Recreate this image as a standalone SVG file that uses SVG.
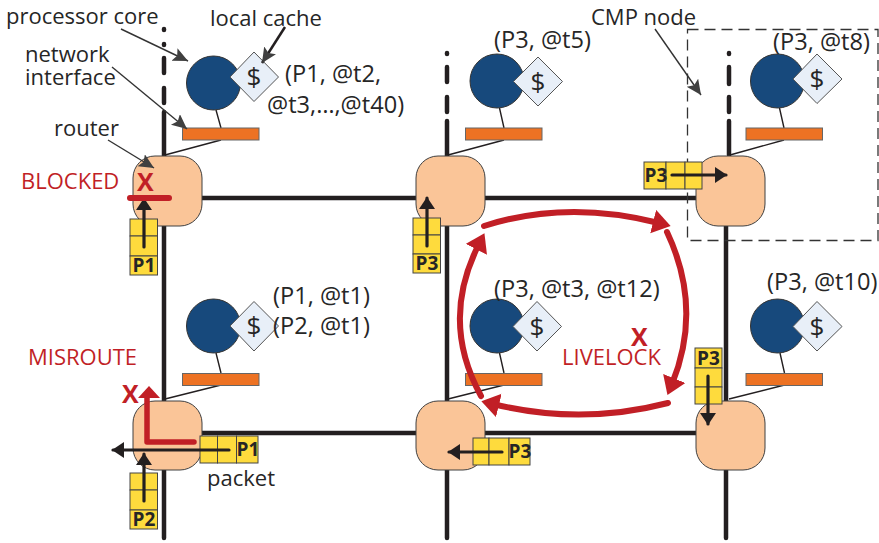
<svg xmlns="http://www.w3.org/2000/svg" width="879" height="543" viewBox="0 0 879 543">
<style>
text{font-family:"Open Sans","Noto Sans","DejaVu Sans",sans-serif;fill:#262626}
.t{font-size:22px}
.a{font-size:23.600px}
.d{font-size:26px;text-anchor:middle}
.red{fill:#c11f26;font-size:22px}
.x{fill:#c11f26;font-size:25px;font-weight:700}
.pk{font-size:19px;font-weight:700;text-anchor:middle;fill:#262626}
.link{stroke:#231f20;stroke-width:4.500;fill:none;stroke-linecap:round}
.stem{stroke:#231f20;stroke-width:1.400;fill:none}
.lead{stroke:#333;stroke-width:1.400;fill:none}
.router{fill:#fac598;stroke:#404040;stroke-width:1}
.core{fill:#17497c;stroke:#333;stroke-width:1}
.cache{fill:#e8eff8;stroke:#555;stroke-width:1}
.ni{fill:#ed7223;stroke:#666;stroke-width:1}
.flit{fill:#fedb3d;stroke:#444;stroke-width:1}
.flow{stroke:#231f20;stroke-width:3.200;fill:none;stroke-linecap:round}
.loop{stroke:#c11f26;stroke-width:6;fill:none;stroke-linecap:round}
</style>
<defs>
<marker id="lh" markerUnits="userSpaceOnUse" markerWidth="18" markerHeight="16" refX="15" refY="7" orient="auto"><path d="M0 0L15 7L0 14L3 7Z" fill="#404040"/></marker>
<marker id="fa" markerUnits="userSpaceOnUse" markerWidth="14" markerHeight="18" refX="11" refY="8" orient="auto"><path d="M0 0L12 8L0 16Z" fill="#231f20"/></marker>
<marker id="rh" markerUnits="userSpaceOnUse" markerWidth="20" markerHeight="26" refX="6" refY="12" orient="auto"><path d="M0 0L18 12L0 24Z" fill="#c11f26"/></marker>
</defs>

<g id="connectors">
<path class="link" d="M164 29v1M164 44v1M164 58v15M164 88v15M164 112v44M164 226v175M164 470v68"/>
<path class="link" d="M447 53v1M447 67v15M447 97v15M447 121v35M447 226v175M447 470v68"/>
<path class="link" d="M729 53v1M729 67v17M729 97v15M729 121v34M726 226v175M726 470v68"/>
<path class="link" d="M202 198H416M485 198H696M202 433H416M485 433H696"/>
</g>

<g id="dashed-cmp-box"><rect x="687.500" y="29.500" width="190.500" height="211" fill="none" stroke="#333" stroke-width="1.300" stroke-dasharray="11 6"/></g>

<g id="router-1"><rect class="router" x="133" y="156" width="69" height="70" rx="22"/></g>
<g id="router-2"><rect class="router" x="416" y="156" width="69" height="70" rx="22"/></g>
<g id="router-3"><rect class="router" x="696" y="156" width="69" height="70" rx="22"/></g>
<g id="router-4"><rect class="router" x="133" y="401" width="69" height="69" rx="22"/></g>
<g id="router-5"><rect class="router" x="416" y="401" width="69" height="69" rx="22"/></g>
<g id="router-6"><rect class="router" x="696" y="401" width="69" height="69" rx="22"/></g>

<g id="node-1">
<circle class="core" cx="213.500" cy="83" r="27"/><path class="stem" d="M216 110L221 128M221 140L165 155"/><rect class="ni" x="182.500" y="128" width="76.500" height="12"/>
<path class="cache" d="M254 52L278.500 77L254 101.500L230 77Z"/><text class="d" x="254" y="86">$</text>
<text class="a" x="285" y="82">(P1, @t2,</text><text class="a" x="267" y="113">@t3,…,@t40)</text>
</g>
<g id="node-2">
<circle class="core" cx="497" cy="81" r="27"/><path class="stem" d="M499.500 108L504 128M504 140L448 155"/><rect class="ni" x="465.500" y="128" width="76.500" height="12"/>
<path class="cache" d="M538 57L562.500 81.500L538 106L513.500 81.500Z"/><text class="d" x="538" y="90.500">$</text>
<text class="a" x="494" y="48">(P3, @t5)</text>
</g>
<g id="node-3">
<circle class="core" cx="777.500" cy="81" r="27"/><path class="stem" d="M779.500 108L784 128M784 140L730 155"/><rect class="ni" x="746" y="128" width="76.500" height="12"/>
<path class="cache" d="M817 54L842 79L817 103.500L793 79Z"/><text class="d" x="817" y="88">$</text>
<text class="a" x="773" y="50">(P3, @t8)</text>
</g>
<g id="node-4">
<circle class="core" cx="213.500" cy="326" r="27"/><path class="stem" d="M216 353L221 373M221 385L165 399"/><rect class="ni" x="182.500" y="373.500" width="76.500" height="12"/>
<path class="cache" d="M254 301.500L278.500 326L254 351L230 326Z"/><text class="d" x="254" y="335">$</text>
<text class="a" x="273" y="304">(P1, @t1)</text><text class="a" x="273" y="334">(P2, @t1)</text>
</g>
<g id="node-5">
<circle class="core" cx="497" cy="326" r="27"/><path class="stem" d="M499.500 353L504 373M504 385L448 399"/><rect class="ni" x="465.500" y="373.500" width="76.500" height="12"/>
<path class="cache" d="M537 301.500L561.500 326.500L537 351L513 326.500Z"/><text class="d" x="537" y="335.500">$</text>
<text class="a" x="494" y="297">(P3, @t3, @t12)</text>
</g>
<g id="node-6">
<circle class="core" cx="777.500" cy="326" r="27"/><path class="stem" d="M780 353L784.500 373M784.500 385L729 399"/><rect class="ni" x="746" y="373.500" width="76.500" height="12"/>
<path class="cache" d="M817 301.500L842 326.500L817 351L793 326.500Z"/><text class="d" x="817" y="335.500">$</text>
<text class="a" x="767" y="290">(P3, @t10)</text>
</g>

<g id="labels">
<text class="t" x="6" y="24">processor core</text>
<text class="t" x="210" y="26">local cache</text>
<text class="t" x="25" y="62">network</text>
<text class="t" x="25" y="85">interface</text>
<text class="t" x="54" y="136">router</text>
<text class="t" x="591" y="25">CMP node</text>
<text class="t" x="207" y="486">packet</text>
<path class="lead" marker-end="url(#lh)" d="M121 29L188 61"/>
<path class="lead" marker-end="url(#lh)" d="M112 67L187 129"/>
<path class="lead" marker-end="url(#lh)" d="M108 140L154 168"/>
<path class="lead" marker-end="url(#lh)" d="M655 29L701 95"/>
<path stroke="#231f20" stroke-width="2.500" fill="none" marker-end="url(#lh)" d="M285 27L262 63"/>
</g>

<g id="packet-p1-blocked">
<rect class="flit" x="130" y="219" width="27.500" height="17"/><rect class="flit" x="130" y="236" width="27.500" height="20"/><rect class="flit" x="130" y="256" width="27.500" height="19"/>
<text class="pk" x="144" y="272">P1</text>
<path class="flow" marker-end="url(#fa)" d="M144 247V199"/>
</g>
<g id="packet-p3-mid">
<rect class="flit" x="413" y="218" width="27.500" height="17"/><rect class="flit" x="413" y="235" width="27.500" height="19"/><rect class="flit" x="413" y="254" width="27.500" height="19"/>
<text class="pk" x="427" y="270">P3</text>
<path class="flow" marker-end="url(#fa)" d="M427 246V198"/>
</g>
<g id="packet-p3-top-right">
<rect class="flit" x="644" y="162" width="22" height="27"/><rect class="flit" x="666" y="162" width="19" height="27"/><rect class="flit" x="685" y="162" width="17" height="27"/>
<text class="pk" x="656" y="182">P3</text>
<path class="flow" marker-end="url(#fa)" d="M672 175H726"/>
</g>
<g id="packet-p3-right">
<rect class="flit" x="695" y="348" width="27" height="20"/><rect class="flit" x="695" y="368" width="27" height="19"/><rect class="flit" x="695" y="387" width="27" height="17"/>
<text class="pk" x="708.500" y="365">P3</text>
<path class="flow" marker-end="url(#fa)" d="M708 376V424"/>
</g>
<g id="packet-p3-bottom">
<rect class="flit" x="473" y="438" width="16" height="27"/><rect class="flit" x="489" y="438" width="20" height="27"/><rect class="flit" x="509" y="438" width="21" height="27"/>
<text class="pk" x="520" y="458">P3</text>
<path class="flow" marker-end="url(#fa)" d="M502 452H449"/>
</g>

<g id="misroute">
<path fill="none" stroke="#c11f26" stroke-width="5.500" stroke-linecap="round" stroke-linejoin="round" d="M194 442H147V398"/>
<path d="M149 386L160 398H138Z" fill="#c11f26"/>
<text class="x" x="122" y="403">X</text>
<text class="red" x="28" y="365">MISROUTE</text>
</g>
<g id="packet-p1-misroute">
<rect class="flit" x="200" y="436" width="17.500" height="27"/><rect class="flit" x="217.500" y="436" width="19" height="27"/><rect class="flit" x="236.500" y="436" width="21.500" height="27"/>
<text class="pk" x="248" y="456">P1</text>
<path class="flow" marker-end="url(#fa)" d="M229 450H113"/>
</g>
<g id="packet-p2">
<rect class="flit" x="130" y="473" width="27.500" height="17"/><rect class="flit" x="130" y="490" width="27.500" height="20"/><rect class="flit" x="130" y="510" width="27.500" height="19"/>
<text class="pk" x="144" y="526">P2</text>
<path class="flow" marker-end="url(#fa)" d="M144 501V454"/>
</g>

<g id="blocked">
<path stroke="#c11f26" stroke-width="6" stroke-linecap="round" d="M130 198H169"/>
<text class="x" x="137" y="191">X</text>
<text class="red" x="21" y="189">BLOCKED</text>
</g>

<g id="livelock">
<path class="loop" marker-end="url(#rh)" d="M484 226C540 208 600 208 659 223"/>
<path class="loop" marker-end="url(#rh)" d="M667 232C692 285 692 335 672 384"/>
<path class="loop" marker-end="url(#rh)" d="M668 403C610 418 550 418 493 404"/>
<path class="loop" marker-end="url(#rh)" d="M481 396C453 345 453 295 479 244"/>
<text class="x" x="631" y="346">X</text>
<text class="red" x="562" y="365">LIVELOCK</text>
</g>
</svg>
